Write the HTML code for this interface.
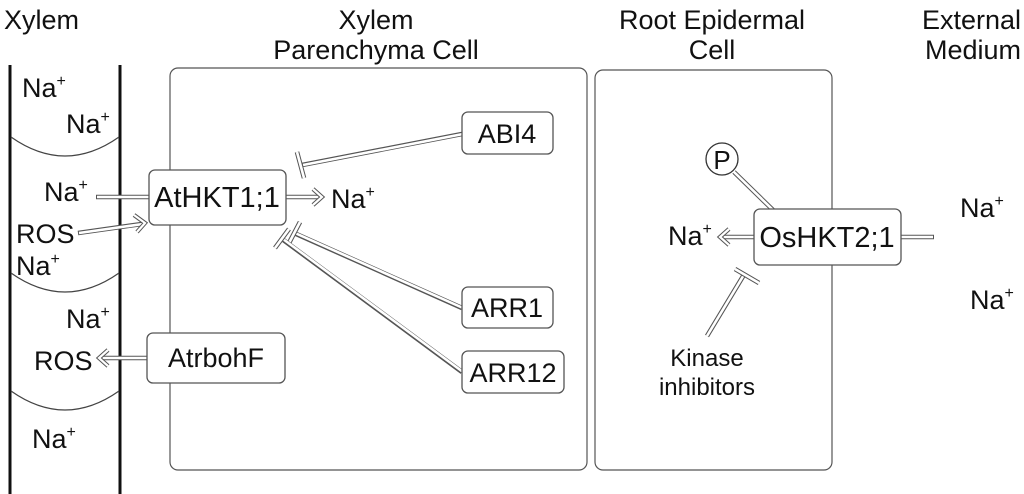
<!DOCTYPE html>
<html><head><meta charset="utf-8"><style>
html,body{margin:0;padding:0;background:#fff}
svg{display:block}
text{font-family:"Liberation Sans",Arial,Helvetica,sans-serif;fill:#111}
.box{fill:#fff;stroke:#555;stroke-width:1.3}
.o{stroke:#555;stroke-width:4.6;fill:none;stroke-linecap:butt}
.i{stroke:#fff;stroke-width:2.6;fill:none;stroke-linecap:butt}
.oh{stroke:#555;stroke-width:4.2;fill:none;stroke-linejoin:miter}
.ih{stroke:#fff;stroke-width:2.2;fill:none;stroke-linejoin:miter}
</style></head><body>
<svg width="1024" height="494" viewBox="0 0 1024 494" xmlns="http://www.w3.org/2000/svg">
<g font-size="27">
<text x="4" y="29">Xylem</text>
<text x="376" y="29" text-anchor="middle">Xylem</text>
<text x="376" y="59" text-anchor="middle">Parenchyma Cell</text>
<text x="712" y="29" text-anchor="middle">Root Epidermal</text>
<text x="712" y="59" text-anchor="middle">Cell</text>
<text x="1021" y="29" text-anchor="end">External</text>
<text x="1021" y="59" text-anchor="end">Medium</text>
</g>
<rect x="170" y="68" width="417" height="402" rx="8" fill="none" stroke="#555" stroke-width="1.2"/>
<rect x="595" y="70" width="237" height="400" rx="8" fill="none" stroke="#555" stroke-width="1.2"/>
<line x1="10" y1="65" x2="10" y2="494" stroke="#111" stroke-width="3"/>
<line x1="120" y1="65" x2="120" y2="494" stroke="#111" stroke-width="3"/>
<path d="M11 137 Q65 175 119 137" fill="none" stroke="#444" stroke-width="1.2"/>
<path d="M11 273 Q65 311 119 273" fill="none" stroke="#444" stroke-width="1.2"/>
<path d="M11 391 Q65 429 119 391" fill="none" stroke="#444" stroke-width="1.2"/>
<g font-size="27">
<text x="22" y="97">Na<tspan font-size="16" dy="-11">+</tspan></text>
<text x="66" y="133">Na<tspan font-size="16" dy="-11">+</tspan></text>
<text x="44" y="201">Na<tspan font-size="16" dy="-11">+</tspan></text>
<text x="16" y="243">ROS</text>
<text x="16" y="275">Na<tspan font-size="16" dy="-11">+</tspan></text>
<text x="66" y="328">Na<tspan font-size="16" dy="-11">+</tspan></text>
<text x="34" y="370">ROS</text>
<text x="32" y="448">Na<tspan font-size="16" dy="-11">+</tspan></text>
<text x="331" y="208">Na<tspan font-size="16" dy="-11">+</tspan></text>
<text x="668" y="245">Na<tspan font-size="16" dy="-11">+</tspan></text>
<text x="960" y="217">Na<tspan font-size="16" dy="-11">+</tspan></text>
<text x="970" y="309">Na<tspan font-size="16" dy="-11">+</tspan></text>
</g>
<g>
<line class="o" x1="96" y1="197" x2="150" y2="197"/><line class="i" x1="97" y1="197" x2="151" y2="197"/>
<line class="o" x1="78" y1="233" x2="142" y2="224"/><line class="i" x1="79" y1="233" x2="143" y2="224"/>
<polyline class="oh" points="134,215 145,223 137,232"/><polyline class="ih" points="134,215 145,223 137,232"/>
<line class="o" x1="285" y1="197" x2="318" y2="197"/><line class="i" x1="284" y1="197" x2="318" y2="197"/>
<polyline class="oh" points="313,189 322,197 313,205"/><polyline class="ih" points="313,189 322,197 313,205"/>
<line class="o" x1="148" y1="358" x2="100" y2="358"/><line class="i" x1="149" y1="358" x2="100" y2="358"/>
<polyline class="oh" points="108,350 99,358 108,366"/><polyline class="ih" points="108,350 99,358 108,366"/>
<line class="o" x1="462" y1="134" x2="302" y2="165"/><line class="i" x1="463" y1="134" x2="303" y2="165"/>
<line class="o" x1="297" y1="152" x2="304" y2="178"/><line class="i" x1="297" y1="152" x2="304" y2="178"/>
<line class="o" x1="462" y1="308" x2="294" y2="233"/><line class="i" x1="463" y1="308" x2="295" y2="233"/>
<line class="o" x1="300" y1="222" x2="289" y2="243"/><line class="i" x1="300" y1="222" x2="289" y2="243"/>
<line class="o" x1="462" y1="372" x2="282" y2="239"/><line class="i" x1="463" y1="372" x2="283" y2="239"/>
<line class="o" x1="289" y1="229" x2="275" y2="248"/><line class="i" x1="289" y1="229" x2="275" y2="248"/>
<line class="o" x1="755" y1="237" x2="720" y2="237"/><line class="i" x1="756" y1="237" x2="720" y2="237"/>
<polyline class="oh" points="729,229 720,237 729,245"/><polyline class="ih" points="729,229 720,237 729,245"/>
<line class="o" x1="900" y1="237" x2="934" y2="237"/><line class="i" x1="899" y1="237" x2="933" y2="237"/>
<line class="o" x1="734" y1="172" x2="773" y2="210"/><line class="i" x1="733" y1="171" x2="773" y2="210"/>
<line class="o" x1="707" y1="336" x2="745" y2="273"/><line class="i" x1="707" y1="336" x2="745" y2="273"/>
<line class="o" x1="735" y1="269" x2="759" y2="283"/><line class="i" x1="735" y1="269" x2="759" y2="283"/>
</g>
<g font-size="27">
<rect class="box" x="149" y="170" width="137" height="55" rx="6"/><text x="217" y="207" text-anchor="middle" font-size="29">AtHKT1;1</text>
<rect class="box" x="147" y="333" width="138" height="50" rx="6"/><text x="216" y="367" text-anchor="middle">AtrbohF</text>
<rect class="box" x="462" y="112" width="91" height="42" rx="6"/><text x="507" y="143" text-anchor="middle">ABI4</text>
<rect class="box" x="462" y="287" width="91" height="41" rx="6"/><text x="507" y="317" text-anchor="middle">ARR1</text>
<rect class="box" x="462" y="351" width="102" height="42" rx="6"/><text x="513" y="382" text-anchor="middle">ARR12</text>
<rect class="box" x="754" y="209" width="147" height="56" rx="6"/><text x="827" y="247" text-anchor="middle" font-size="29">OsHKT2;1</text>
<circle cx="722" cy="159" r="16" fill="#fff" stroke="#333" stroke-width="1.3"/><text x="722" y="169" text-anchor="middle" font-size="26">P</text>
<text x="707" y="366" text-anchor="middle" font-size="24">Kinase</text>
<text x="707" y="395" text-anchor="middle" font-size="24">inhibitors</text>
</g>
</svg>
</body></html>
